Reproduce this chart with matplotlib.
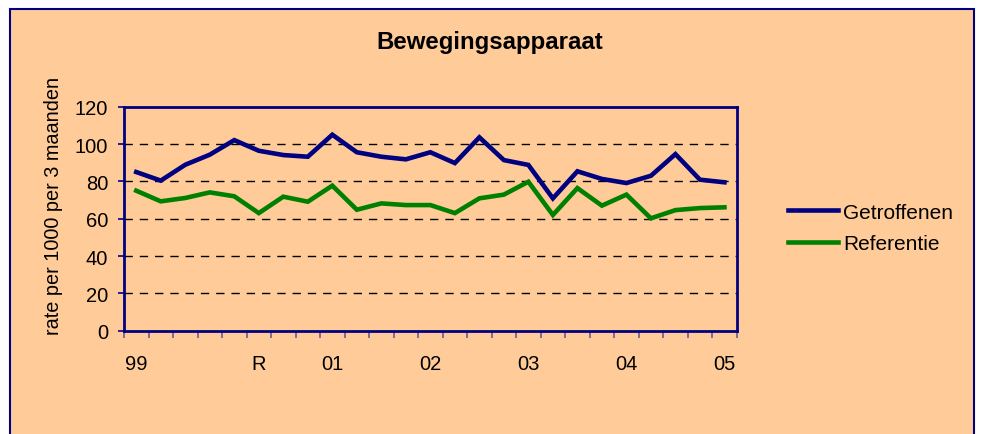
import matplotlib
matplotlib.use("Agg")
import matplotlib.pyplot as plt
from matplotlib.patches import Rectangle
import numpy as np

plt.rcParams['font.family'] = ['Liberation Sans', 'DejaVu Sans']

# quarterly values, 25 periods
getroffenen = [85, 80.4, 88.9, 94.3, 102.1, 96.4, 94.1, 93.2, 105, 95.6, 93.2, 91.8,
               95.6, 89.8, 103.6, 91.4, 88.8, 70.9, 85.4, 81.3, 79.1, 83, 94.6, 80.9, 79.5]
referentie = [75, 69.3, 71.1, 74.1, 72, 63, 71.8, 69.1, 77.7, 64.8, 68.2, 67.3,
              67.3, 63, 70.9, 72.9, 79.8, 62, 76.4, 67, 72.9, 60.2, 64.6, 65.7, 66.1]
label_pos = [0, 5, 8, 12, 16, 20, 24]
label_txt = ["99", "R", "01", "02", "03", "04", "05"]
y_ticks = [0, 20, 40, 60, 80, 100, 120]

navy = "#000080"
green = "#008000"
peach = "#FFCC99"

fig = plt.figure(figsize=(9.81, 4.35), dpi=100)
fig.patch.set_facecolor("white")
fig.patches.append(Rectangle((9.5/981, -0.05), (974-9.5)/981, 1.05 - 9.5/435,
                             transform=fig.transFigure, facecolor=peach,
                             edgecolor=navy, linewidth=1.5, zorder=-10))

ax = fig.add_axes([124/981, 1-331.7/435, (736.7-124)/981, (331.7-107.7)/435])
ax.set_facecolor(peach)

x = np.arange(len(getroffenen))
ax.plot(x, getroffenen, color=navy, linewidth=3.3, label="Getroffenen", solid_joinstyle="miter", zorder=3)
ax.plot(x, referentie, color=green, linewidth=3.3, label="Referentie", solid_joinstyle="miter", zorder=3)

ax.set_xlim(-0.5, len(x) - 0.5)
ax.set_ylim(0, 120)
ax.set_yticks(y_ticks)
ax.tick_params(axis='y', labelsize=14.5, length=4.5, width=1.2, color=navy, pad=7)
for yv in y_ticks[1:-1]:
    ax.axhline(yv, color="black", linewidth=1, linestyle=(0, (6, 5)), zorder=1)

ax.set_xticks(label_pos)
ax.set_xticklabels(label_txt)
ax.set_xticks(np.arange(-0.5, len(x)), minor=True)
ax.tick_params(axis='x', which='major', length=0, labelsize=14.5, pad=17)
ax.tick_params(axis='x', which='minor', length=5, width=1.2, color="#6a5a9a")

for s in ax.spines.values():
    s.set_color(navy)
    s.set_linewidth(2)

ax.set_ylabel("rate per 1000 per 3 maanden", fontsize=14.3, va="center")
ax.yaxis.set_label_coords(-(124-54)/(736.7-124), 0.56)

fig.text(490/981, 1-43/435, "Bewegingsapparaat", fontsize=17.3, fontweight="bold",
         ha="center", va="center")

fig.legend(loc="center left", bbox_to_anchor=(769/981, 1-229/435), frameon=False,
           fontsize=15, handlelength=2.4, handletextpad=0.25, labelspacing=0.62)

fig.savefig("out.png", dpi=100)
